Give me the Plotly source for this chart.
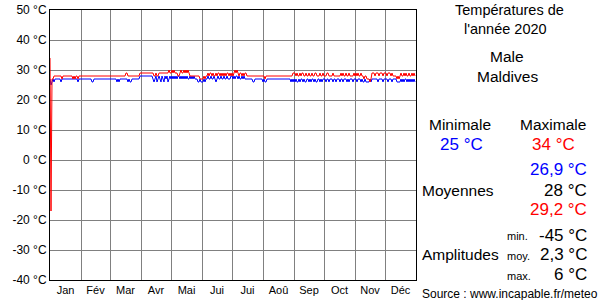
import plotly.graph_objects as go

MONTHS = ["Jan", "Fév", "Mar", "Avr", "Mai", "Jui", "Jui", "Aoû", "Sep", "Oct", "Nov", "Déc"]
MONTH_DAYS = [31, 29, 31, 30, 31, 30, 31, 31, 30, 31, 30, 31]
Y_TICKS = [-40, -30, -20, -10, 0, 10, 20, 30, 40, 50]

# Daily maximum temperatures (°C), one line per month
TMAX = (
    [34, -17, 27, 27, 28, 28, 28, 28, 28, 28, 28, 28, 27, 28, 28, 28, 28, 28, 28, 28, 28, 28, 28, 27, 28, 27, 28, 28, 27, 28, 28]
    + [28, 28, 28, 28, 28, 28, 28, 28, 28, 28, 28, 28, 28, 28, 28, 28, 28, 28, 28, 28, 28, 28, 28, 28, 28, 28, 28, 28, 28]
    + [28, 28, 28, 28, 28, 28, 28, 28, 28, 28, 28, 28, 28, 28, 28, 28, 29, 29, 28, 28, 28, 28, 28, 28, 28, 28, 28, 28, 28, 28, 29]
    + [29, 29, 29, 29, 29, 29, 29, 29, 29, 29, 29, 29, 29, 28, 28, 29, 28, 28, 29, 29, 29, 29, 29, 29, 29, 29, 29, 29, 30, 29]
    + [29, 30, 29, 30, 29, 29, 29, 28, 28, 29, 30, 29, 29, 30, 29, 30, 29, 30, 29, 28, 28, 28, 28, 28, 28, 28, 28, 28, 28, 27, 27]
    + [27, 27, 28, 27, 28, 28, 29, 28, 29, 29, 28, 29, 28, 28, 29, 28, 29, 29, 28, 29, 28, 29, 28, 29, 28, 29, 29, 28, 29, 28]
    + [29, 28, 29, 30, 29, 30, 29, 28, 29, 29, 28, 29, 28, 29, 29, 28, 28, 28, 28, 28, 28, 28, 28, 28, 28, 28, 28, 28, 28, 28, 28]
    + [28, 28, 27, 28, 28, 28, 28, 28, 28, 28, 28, 28, 28, 28, 28, 28, 28, 28, 28, 28, 28, 28, 28, 28, 28, 28, 28, 28, 28, 28, 29]
    + [29, 29, 28, 29, 28, 28, 29, 28, 29, 29, 28, 28, 29, 28, 28, 29, 28, 28, 29, 28, 28, 29, 29, 28, 28, 28, 29, 28, 28, 29]
    + [28, 28, 28, 29, 29, 28, 28, 28, 28, 29, 28, 28, 28, 28, 28, 28, 28, 29, 28, 29, 28, 28, 29, 28, 28, 29, 28, 28, 28, 28, 29]
    + [28, 29, 28, 29, 28, 28, 29, 28, 28, 27, 28, 28, 27, 27, 27, 26, 27, 29, 29, 29, 28, 29, 29, 29, 28, 29, 29, 29, 28, 29]
    + [29, 29, 28, 29, 29, 29, 28, 29, 28, 28, 28, 28, 27, 28, 27, 28, 29, 28, 28, 29, 28, 29, 28, 28, 29, 28, 28, 29, 28, 29, 28]
)

# Daily minimum temperatures (°C), one line per month
TMIN = (
    [27, 25, 26, 27, 26, 27, 27, 27, 27, 27, 27, 26, 27, 27, 27, 27, 27, 27, 27, 27, 27, 27, 27, 27, 27, 27, 27, 27, 26, 27, 27]
    + [27, 27, 27, 27, 27, 27, 27, 27, 27, 27, 27, 26, 26, 27, 27, 27, 27, 27, 27, 27, 27, 27, 27, 27, 27, 27, 27, 27, 27]
    + [27, 27, 27, 27, 27, 27, 27, 26, 27, 26, 27, 27, 27, 27, 27, 27, 27, 27, 26, 27, 26, 26, 27, 27, 27, 27, 27, 27, 27, 27, 28]
    + [28, 28, 28, 28, 28, 28, 28, 28, 28, 28, 28, 28, 27, 26, 27, 28, 26, 27, 28, 27, 26, 28, 27, 26, 28, 27, 28, 26, 27, 28]
    + [27, 28, 27, 28, 27, 28, 27, 28, 28, 27, 28, 27, 28, 27, 28, 27, 28, 27, 27, 28, 27, 28, 27, 28, 27, 27, 27, 26, 26, 27, 26]
    + [26, 26, 27, 26, 27, 27, 28, 27, 27, 28, 27, 27, 28, 27, 26, 27, 28, 27, 27, 28, 27, 27, 28, 27, 27, 28, 27, 27, 27, 28]
    + [28, 27, 28, 27, 28, 28, 27, 28, 27, 27, 28, 27, 28, 27, 27, 27, 27, 27, 27, 27, 27, 26, 26, 27, 27, 27, 27, 27, 27, 27, 27]
    + [26, 27, 26, 26, 27, 27, 27, 27, 27, 27, 27, 27, 27, 27, 27, 27, 27, 27, 27, 27, 27, 27, 27, 27, 27, 27, 27, 27, 26, 27, 26]
    + [27, 26, 27, 26, 26, 27, 26, 27, 27, 26, 27, 26, 26, 27, 27, 26, 27, 26, 27, 27, 26, 27, 26, 26, 27, 27, 26, 27, 26, 27]
    + [27, 27, 26, 27, 27, 26, 27, 27, 27, 26, 27, 27, 26, 27, 27, 27, 26, 27, 27, 26, 27, 27, 27, 26, 27, 26, 27, 27, 27, 26, 27]
    + [27, 27, 26, 27, 27, 27, 26, 27, 26, 26, 27, 26, 26, 26, 26, 27, 26, 27, 27, 27, 27, 27, 27, 26, 27, 27, 27, 27, 26, 27]
    + [27, 27, 27, 26, 27, 27, 27, 26, 27, 27, 27, 27, 26, 26, 26, 26, 27, 26, 27, 26, 27, 27, 26, 27, 26, 27, 26, 27, 26, 27, 26]
)

N_DAYS = sum(MONTH_DAYS)
assert len(TMAX) == N_DAYS, len(TMAX)
assert len(TMIN) == N_DAYS, len(TMIN)
DAYS = list(range(N_DAYS))

month_starts = []
acc = 0
for d in MONTH_DAYS:
    month_starts.append(acc)
    acc += d
month_starts.append(acc)
month_mids = [s + d / 2 for s, d in zip(month_starts, MONTH_DAYS)]

FONT = "Liberation Sans, Arial, sans-serif"
W, H = 600, 300
ML, MR, MT, MB = 50, 184, 10, 20
PW, PH = W - ML - MR, H - MT - MB

fig = go.Figure()
fig.add_trace(go.Scatter(x=DAYS, y=TMIN, mode="lines",
                         line=dict(color="#0000ff", width=1), hoverinfo="skip"))
fig.add_trace(go.Scatter(x=DAYS, y=TMAX, mode="lines",
                         line=dict(color="#ff0000", width=1), hoverinfo="skip"))


def px(x):
    return (x - ML) / PW


def py(y):
    return (H - MB - y) / PH


annotations = []


def ann(text, x, y, size, color="#000000", xanchor="center"):
    annotations.append(dict(text=text, x=px(x), y=py(y), xref="paper", yref="paper",
                            xanchor=xanchor, yanchor="middle", showarrow=False,
                            font=dict(family=FONT, size=size, color=color)))


ann("Températures de", 509, 10, 14.5)
ann("l'année 2020", 505, 29, 14.5)
ann("Male", 507, 57, 15.5)
ann("Maldives", 507, 76, 15.5)
ann("Minimale", 460, 124, 15.5)
ann("Maximale", 553, 124, 15.5)
ann("25 °C", 461, 144, 17, "#0000ff")
ann("34 °C", 553, 144, 17, "#ff0000")
ann("26,9 °C", 589, 169, 17, "#0000ff", "right")
ann("Moyennes", 420, 190, 15.5, xanchor="left")
ann("28 °C", 589, 190, 17, xanchor="right")
ann("29,2 °C", 589, 209, 17, "#ff0000", "right")
ann("min.", 505, 236, 11, xanchor="left")
ann("-45 °C", 589, 235, 17, xanchor="right")
ann("Amplitudes", 420, 254, 15.5, xanchor="left")
ann("moy.", 505, 256, 11, xanchor="left")
ann("2,3 °C", 589, 254, 17, xanchor="right")
ann("max.", 505, 276, 11, xanchor="left")
ann("6 °C", 589, 274, 17, xanchor="right")
ann("Source : www.incapable.fr/meteo", 420, 294, 12, xanchor="left")

fig.update_layout(
    width=W, height=H,
    margin=dict(l=ML, r=MR, t=MT, b=MB, pad=0, autoexpand=False),
    paper_bgcolor="white", plot_bgcolor="white",
    showlegend=False,
    font=dict(family=FONT, color="#000000"),
    annotations=annotations,
    xaxis=dict(
        range=[0, N_DAYS], tickmode="array", tickvals=month_mids, ticktext=MONTHS,
        showgrid=False, ticks="", zeroline=False, automargin=False,
        showline=True, linecolor="#000000", linewidth=1, mirror=True,
        tickfont=dict(family=FONT, size=11, color="#000000"),
        minor=dict(tickmode="array", tickvals=month_starts, showgrid=True,
                   gridcolor="#808080", gridwidth=1, ticks=""),
        fixedrange=True,
    ),
    yaxis=dict(
        range=[-40, 50], tickmode="array", tickvals=Y_TICKS,
        ticktext=[f"{v} °C" for v in Y_TICKS],
        showgrid=True, gridcolor="#808080", gridwidth=1, zeroline=False, automargin=False,
        showline=True, linecolor="#000000", linewidth=1, mirror=True, ticks="",
        tickfont=dict(family=FONT, size=12, color="#000000"),
        fixedrange=True,
    ),
)

fig.write_html("out.html")
